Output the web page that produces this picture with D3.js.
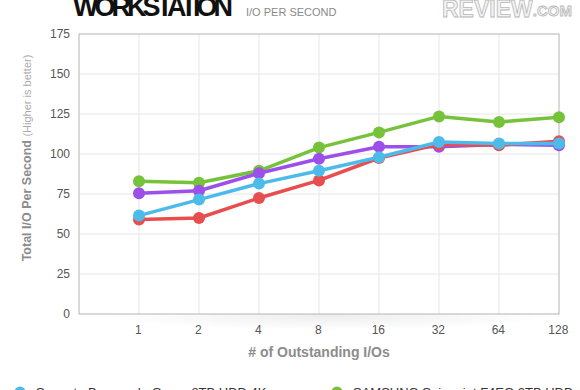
<!DOCTYPE html>
<html>
<head>
<meta charset="utf-8">
<script src="https://cdn.jsdelivr.net/npm/d3@7"></script>
<style>
  body { margin: 0; background: #fff; }
  svg { display: block; font-family: "Liberation Sans", Arial, sans-serif; }
  .grid line { stroke: #e6e6e6; }
  .axis-y text, .axis-x text { fill: #555; font-size: 12px; }
  .line { fill: none; stroke-width: 3.5; stroke-linejoin: round; }
</style>
</head>
<body>
<div id="chart"></div>
<script>
const categories = ["1", "2", "4", "8", "16", "32", "64", "128"];
const yTicks = [0, 25, 50, 75, 100, 125, 150, 175];

const seagateGreen = [61.5, 71.5, 81.5, 89.5, 98, 107.5, 106.5, 106.5];
const samsungF4 = [83, 82, 89.5, 104, 113.5, 123.5, 120, 123];
const seagateArchive = [59, 60, 72.5, 83.5, 97.5, 106, 105.5, 108];
const wdRed = [75.5, 77, 88, 97, 104.5, 104.5, 106, 105.5];

const seriesNames = [
  "Seagate Barracuda Green 8TB HDD 4K",
  "SAMSUNG Spinpoint F4EG 2TB HDD 4K",
  "Seagate Archive HDD 8TB 4K",
  "WD Red 6TB HDD 4K"
];
const seriesColors = ["#4dbbea", "#76c33b", "#e84e4f", "#9c50e9"];

const series = [
  {name: seriesNames[0], color: seriesColors[0], values: seagateGreen},
  {name: seriesNames[1], color: seriesColors[1], values: samsungF4},
  {name: seriesNames[2], color: seriesColors[2], values: seagateArchive},
  {name: seriesNames[3], color: seriesColors[3], values: wdRed}
];
// draw order so the picture's overlap matches
const drawOrder = [1, 3, 2, 0];

const W = 580, H = 390;
const margin = {t: 34, l: 79, r: 21, b: 76};
const width = W - margin.l - margin.r;
const height = H - margin.t - margin.b;

const svg = d3.select("#chart").append("svg")
  .attr("width", W)
  .attr("height", H);

// x: a blank leading slot so "1" sits one step in from the left edge
const x = d3.scalePoint()
  .domain([""].concat(categories))
  .range([0, width]);

const y = d3.scaleLinear()
  .domain([0, 175])
  .range([height, 0]);

// header
svg.append("text")
  .attr("x", 73).attr("y", 16)
  .attr("font-size", 27).attr("font-weight", "bold")
  .attr("fill", "#111")
  .attr("textLength", 160)
  .text("WORKSTATION");

svg.append("text")
  .attr("x", 246).attr("y", 15.5)
  .attr("font-size", 11).attr("fill", "#8a8a8a")
  .text("I/O PER SECOND");

const logo = svg.append("text")
  .attr("x", 442).attr("y", 17)
  .attr("font-weight", "bold")
  .attr("fill", "#f2f2f2").attr("stroke", "#b8b8b8").attr("stroke-width", 0.8);
logo.append("tspan")
  .attr("font-size", 23)
  .text("REVIEW");
logo.append("tspan")
  .attr("font-size", 15)
  .attr("dy", -1)
  .text(".COM");

// soft shadow under the plot
const defs = svg.append("defs");
const grad = defs.append("radialGradient").attr("id", "shadow");
grad.append("stop").attr("offset", "0%").attr("stop-color", "#000").attr("stop-opacity", 0.07);
grad.append("stop").attr("offset", "100%").attr("stop-color", "#000").attr("stop-opacity", 0);
svg.append("ellipse")
  .attr("cx", margin.l + width / 2 + 10)
  .attr("cy", margin.t + height + 2)
  .attr("rx", width * 0.47)
  .attr("ry", 14)
  .attr("fill", "url(#shadow)");

const plot = svg.append("g").attr("transform", `translate(${margin.l},${margin.t})`);
plot.append("rect")
  .attr("width", width).attr("height", height)
  .attr("fill", "#fff");

// grid
const grid = plot.append("g").attr("class", "grid");
grid.selectAll(".gy")
  .data(yTicks.slice(1, -1))
  .join("line")
  .attr("x1", 0).attr("x2", width)
  .attr("y1", d => y(d)).attr("y2", d => y(d));
grid.selectAll(".gx")
  .data(categories.slice(0, -1))
  .join("line")
  .attr("x1", d => x(d)).attr("x2", d => x(d))
  .attr("y1", 0).attr("y2", height);

plot.append("rect")
  .attr("width", width).attr("height", height)
  .attr("fill", "none").attr("stroke", "#b3b3b3");

// axes
const axisY = plot.append("g").attr("class", "axis-y")
  .call(d3.axisLeft(y).tickValues(yTicks).tickSize(0).tickPadding(9));
axisY.select(".domain").remove();

const axisX = plot.append("g").attr("class", "axis-x")
  .attr("transform", `translate(0,${height})`)
  .call(d3.axisBottom(x).tickValues(categories).tickSize(0).tickPadding(11));
axisX.select(".domain").remove();
axisX.selectAll("text").attr("dx", "-0.1em");

// axis titles
svg.append("text")
  .attr("x", margin.l + width / 2)
  .attr("y", 357)
  .attr("text-anchor", "middle")
  .attr("font-size", 14).attr("font-weight", "bold")
  .attr("fill", "#8c8c8c")
  .text("# of Outstanding I/Os");

const yTitle = svg.append("text")
  .attr("transform", "translate(31,158) rotate(-90)")
  .attr("text-anchor", "middle")
  .attr("fill", "#8c8c8c");
yTitle.append("tspan")
  .attr("font-size", 12.5).attr("font-weight", "bold")
  .text("Total I/O Per Second ");
yTitle.append("tspan")
  .attr("font-size", 11).attr("fill", "#ababab")
  .text("(Higher is better)");

// lines + dots
const line = d3.line()
  .x((d, i) => x(categories[i]))
  .y(d => y(d));

const ordered = drawOrder.map(i => series[i]);
const sg = plot.selectAll(".series")
  .data(ordered)
  .join("g")
  .attr("class", "series");

sg.append("path")
  .attr("class", "line")
  .attr("stroke", d => d.color)
  .attr("d", d => line(d.values));

sg.selectAll("circle")
  .data(d => d.values.map((v, i) => ({v, i, color: d.color})))
  .join("circle")
  .attr("cx", d => x(categories[d.i]))
  .attr("cy", d => y(d.v))
  .attr("r", 6)
  .attr("fill", d => d.color);

// legend, two columns (second row falls below the window)
const legend = svg.append("g").attr("class", "legend");
const colX = [20, 337];
const li = legend.selectAll("g")
  .data(series)
  .join("g")
  .attr("transform", (d, i) => `translate(${colX[i % 2]},${392 + Math.floor(i / 2) * 22})`);
li.append("circle")
  .attr("r", 5.5)
  .attr("fill", d => d.color);
li.append("text")
  .attr("x", 16).attr("y", 5)
  .attr("font-size", 13)
  .attr("fill", "#333")
  .text(d => d.name);
</script>
</body>
</html>
